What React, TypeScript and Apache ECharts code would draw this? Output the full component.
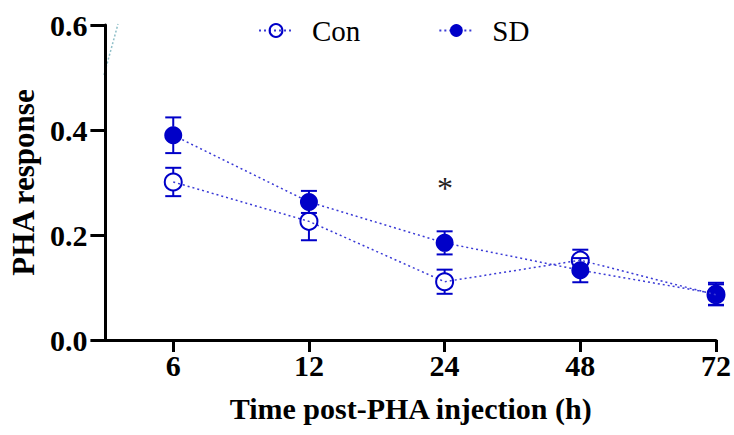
import React, { useEffect, useRef } from "react";
import * as echarts from "echarts";

const categories = ["6", "12", "24", "48", "72"];
const conMean = [0.301, 0.226, 0.111, 0.152, 0.086];
const conErr = [0.027, 0.036, 0.023, 0.02, 0.02];
const sdMean = [0.39, 0.263, 0.185, 0.133, 0.088];
const sdErr = [0.034, 0.021, 0.022, 0.023, 0.021];

const BLUE = "#0000c8";
const LINE_BLUE = "#3a3ad6";
const FONT = "'Liberation Serif', 'Times New Roman', serif";

export default function App() {
  const ref = useRef<HTMLDivElement>(null);
  useEffect(() => {
    if (!ref.current) return;
    const chart = echarts.init(ref.current, null, { renderer: "svg" });
    const xPos = categories.map((_, i) => i + 1);
    const toErr = (means: number[], errs: number[]) =>
      means.map((m, i) => [xPos[i], m - errs[i], m + errs[i], m]);
    const R = 8.5;
    const errRender = (params: any, api: any) => {
      const x = api.value(0);
      const lo = api.coord([x, api.value(1)]);
      const hi = api.coord([x, api.value(2)]);
      const mid = api.coord([x, api.value(3)]);
      const cw = 8;
      const style = { stroke: BLUE, lineWidth: 2 };
      const children: any[] = [
        { type: "line", shape: { x1: hi[0] - cw, y1: hi[1], x2: hi[0] + cw, y2: hi[1] }, style },
        { type: "line", shape: { x1: lo[0] - cw, y1: lo[1], x2: lo[0] + cw, y2: lo[1] }, style },
      ];
      if (mid[1] - R > hi[1]) children.push({ type: "line", shape: { x1: hi[0], y1: hi[1], x2: hi[0], y2: mid[1] - R }, style });
      if (mid[1] + R < lo[1]) children.push({ type: "line", shape: { x1: lo[0], y1: mid[1] + R, x2: lo[0], y2: lo[1] }, style });
      return { type: "group", children };
    };
    chart.setOption({
      animation: false,
      grid: { left: 104, right: 16, top: 25, bottom: 95, containLabel: false },
      legend: {
        left: 253,
        top: 11,
        itemWidth: 34,
        itemHeight: 16,
        itemGap: 78,
        textStyle: { fontFamily: FONT, fontSize: 29, color: "#000", padding: [0, 0, 0, 14] },
        data: ["Con", "SD"],
      },
      xAxis: {
        type: "value",
        min: 0.5,
        max: 5,
        splitLine: { show: false },
        axisLine: { show: true, lineStyle: { color: "#000", width: 3 } },
        axisTick: { show: true, length: 12, lineStyle: { color: "#000", width: 3 }, customValues: xPos },
        axisLabel: {
          customValues: xPos,
          formatter: (v: number) => categories[Math.round(v) - 1] ?? "",
          fontFamily: FONT,
          fontWeight: "bold",
          fontSize: 30,
          color: "#000",
          margin: 10,
        },
        name: "Time post-PHA injection (h)",
        nameLocation: "middle",
        nameGap: 53,
        nameTextStyle: { fontFamily: FONT, fontWeight: "bold", fontSize: 30, color: "#000" },
      },
      yAxis: {
        type: "value",
        min: 0,
        max: 0.6,
        interval: 0.2,
        splitLine: { show: false },
        axisLine: { show: true, lineStyle: { color: "#000", width: 3 } },
        axisTick: { show: true, length: 15, lineStyle: { color: "#000", width: 3 } },
        axisLabel: {
          formatter: (v: number) => v.toFixed(1),
          fontFamily: FONT,
          fontWeight: "bold",
          fontSize: 30,
          color: "#000",
          margin: 18,
        },
        name: "PHA response",
        nameLocation: "middle",
        nameGap: 66,
        nameTextStyle: { fontFamily: FONT, fontWeight: "bold", fontSize: 31, color: "#000" },
      },
      graphic: [
        {
          type: "line",
          shape: { x1: 104, y1: 75, x2: 118, y2: 24 },
          style: { stroke: "#8fbfc8", lineWidth: 1.5, lineDash: [2, 2] },
          silent: true,
        },
        {
          type: "text",
          left: 437,
          top: 172,
          style: { text: "*", fontFamily: FONT, fontSize: 32, fill: "#222" },
        },
      ],
      series: [
        {
          type: "custom",
          name: "conErr",
          renderItem: errRender,
          data: toErr(conMean, conErr),
          z: 1,
          silent: true,
        },
        {
          type: "custom",
          name: "sdErr",
          renderItem: errRender,
          data: toErr(sdMean, sdErr),
          z: 1,
          silent: true,
        },
        {
          name: "Con",
          type: "line",
          data: conMean.map((v, i) => [xPos[i], v]),
          symbol: "circle",
          symbolSize: 17,
          itemStyle: { color: "rgba(255,255,255,0)", borderColor: BLUE, borderWidth: 2 },
          lineStyle: { color: LINE_BLUE, width: 1.5, type: [2, 3] },
          z: 3,
        },
        {
          name: "SD",
          type: "line",
          data: sdMean.map((v, i) => [xPos[i], v]),
          symbol: "circle",
          symbolSize: 18,
          itemStyle: { color: BLUE, borderColor: BLUE, borderWidth: 0 },
          lineStyle: { color: LINE_BLUE, width: 1.5, type: [2, 3] },
          z: 2,
        },
      ],
    });
    return () => chart.dispose();
  }, []);
  return (
    <div
      ref={ref}
      style={{ position: "fixed", left: 0, top: 0, width: 734, height: 435, background: "#fff" }}
    />
  );
}
